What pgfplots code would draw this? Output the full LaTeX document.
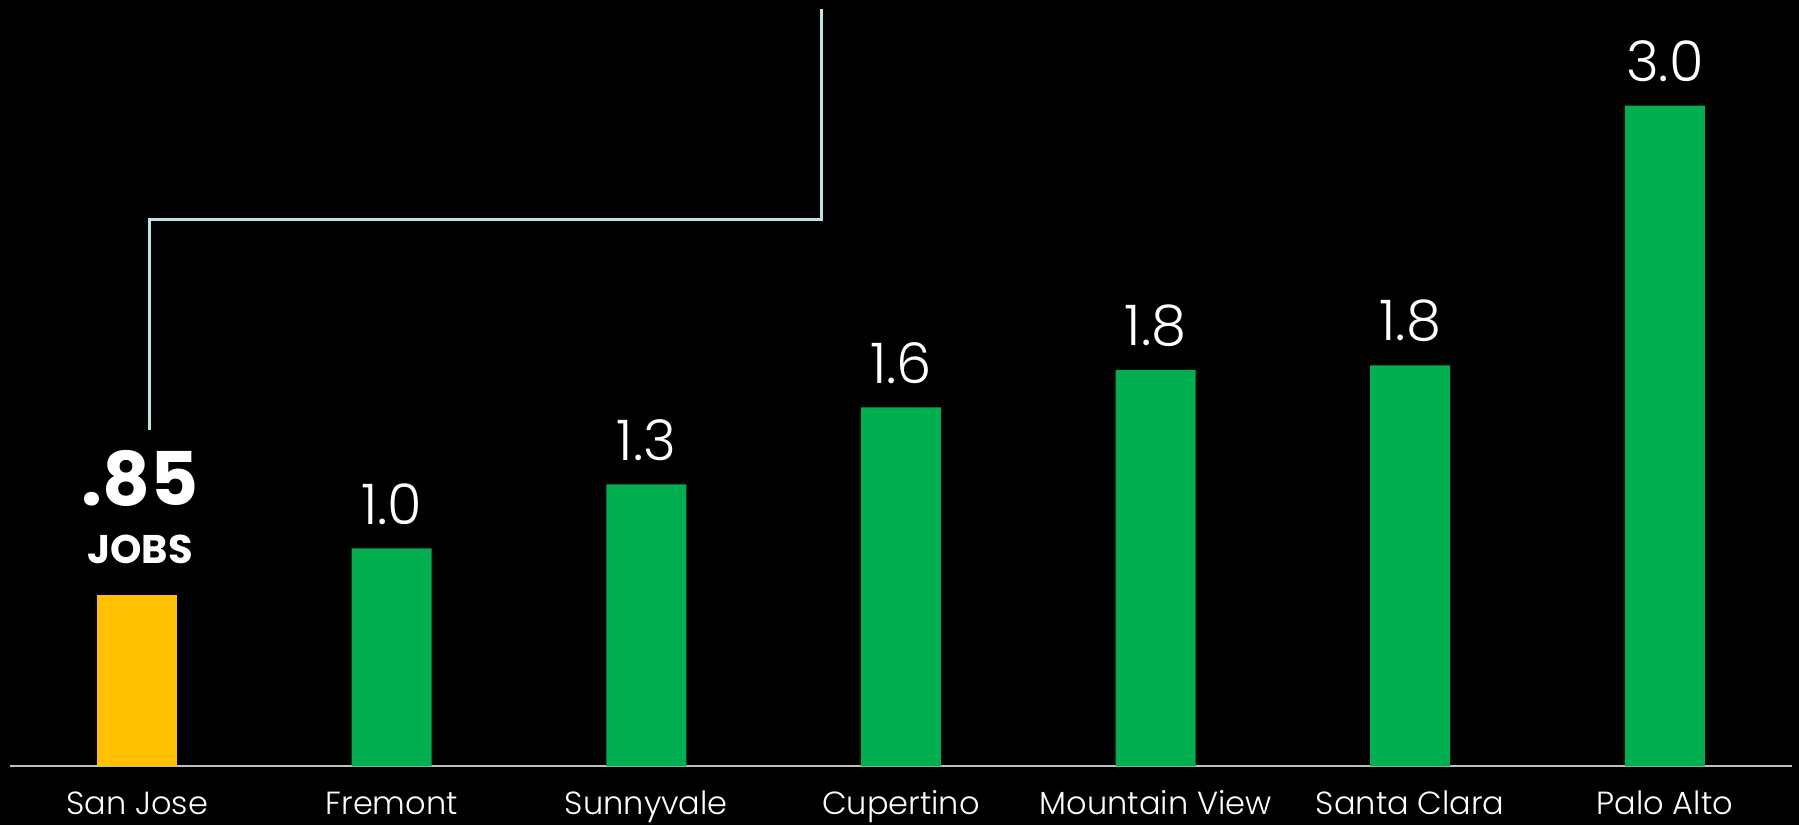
\documentclass[border=0pt]{standalone}
\usepackage{fontspec}
\setmainfont{Poppins}
\IfFontExistsTF{Poppins Light}{\newfontfamily\lightfont{Poppins Light}}{\newfontfamily\lightfont{Poppins}}
\usepackage{pgfplots}
\pgfplotsset{compat=1.18}
\usetikzlibrary{backgrounds}
\definecolor{sjy}{HTML}{FFC000}
\definecolor{grn}{HTML}{00B050}
\definecolor{conn}{HTML}{BDE3E3}
\definecolor{axl}{HTML}{BFBFBF}
\begin{document}
\begin{tikzpicture}[background rectangle/.style={fill=black}, show background rectangle, inner frame sep=0pt]
\begin{axis}[
  scale only axis, width=891.1pt, height=383.2pt,
  xmin=-0.5, xmax=6.5, ymin=0, ymax=3.479,
  hide y axis,
  axis x line=bottom,
  x axis line style={-, draw=axl, line width=1pt},
  xtick={0,1,2,3,4,5,6},
  xticklabels={San Jose, Fremont, Sunnyvale, Cupertino, Mountain View, Santa Clara, Palo Alto},
  xtick style={draw=none},
  xticklabel style={anchor=base, yshift=-22pt, inner sep=0pt, font=\lightfont\fontsize{16}{18}\selectfont, text=white},
  clip=false,
]
\addplot[ybar, bar width=40pt, bar shift=0pt, fill=sjy, draw=none] coordinates {(0,0.78)};
\addplot[ybar, bar width=40pt, bar shift=0pt, fill=grn, draw=none,
  point meta=explicit symbolic, nodes near coords,
  nodes near coords style={anchor=south, yshift=11.5pt, inner sep=0pt, text=white, font=\lightfont\fontsize{28}{30}\selectfont}]
  table[meta=lab]{
x y lab
1 0.99 1.0
2 1.28 1.3
3 1.63 1.6
4 1.80 1.8
5 1.82 1.8
6 3.00 3.0
};
\node[anchor=base, inner sep=0pt, text=white, font=\bfseries\fontsize{20}{22}\selectfont] at ([yshift=15.5pt]axis cs:0.012,0.78) {JOBS};
\node[anchor=base, inner sep=0pt, text=white, font=\bfseries\fontsize{37}{40}\selectfont] at ([yshift=44.5pt]axis cs:0.012,0.78) {.85};
\draw[conn, line width=1.5pt] (axis cs:0.047,1.526) -- (axis cs:0.047,2.484) -- (axis cs:2.688,2.484) -- (axis cs:2.688,3.437);
\coordinate (BL) at (axis cs:-0.5385,-0.266);
\coordinate (TR) at (axis cs:6.527,3.479);
\end{axis}
\pgfresetboundingbox
\path[use as bounding box] (BL) rectangle (TR);
\end{tikzpicture}
\end{document}
